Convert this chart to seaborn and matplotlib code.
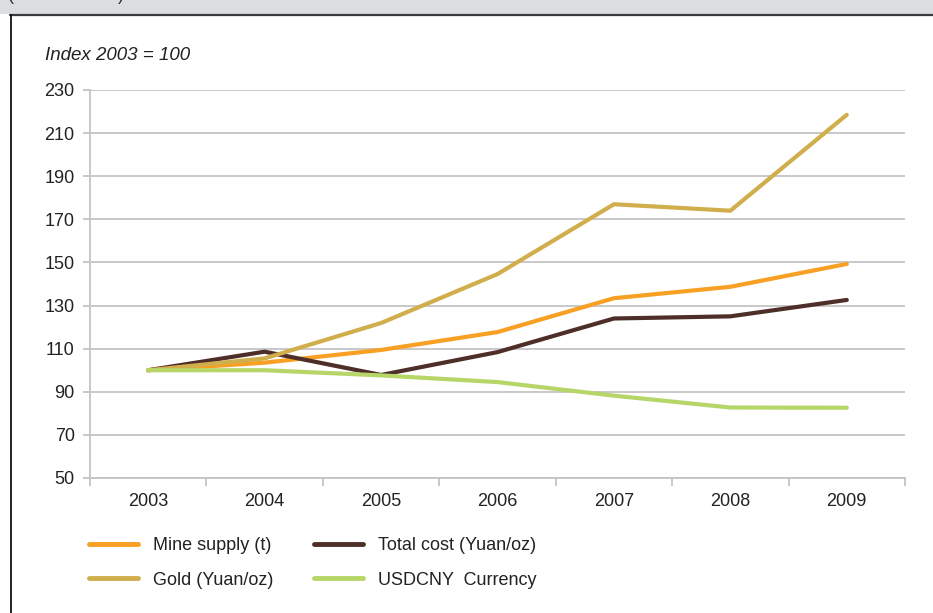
import matplotlib
matplotlib.use("Agg")
import matplotlib.pyplot as plt
from matplotlib.lines import Line2D
import numpy as np
import pandas as pd
import seaborn as sns

# Index values (2003 = 100)
years = [2003, 2004, 2005, 2006, 2007, 2008, 2009]
mine_supply = [100, 103.5, 109.4, 117.7, 133.4, 138.7, 149.3]
total_cost = [100, 108.6, 97.8, 108.4, 124.0, 125.0, 132.6]
gold_price = [100, 105.5, 121.9, 144.6, 177.0, 174.0, 218.5]
usdcny = [100, 100.0, 97.6, 94.5, 88.2, 82.7, 82.6]

series_names = ["Mine supply (t)", "Total cost (Yuan/oz)", "Gold (Yuan/oz)", "USDCNY  Currency"]
series_values = [mine_supply, total_cost, gold_price, usdcny]
series_colors = ["#F7A023", "#4E2E28", "#D1AE4C", "#B6D768"]
legend_order = ["Mine supply (t)", "Gold (Yuan/oz)", "Total cost (Yuan/oz)", "USDCNY  Currency"]
y_ticks = [50, 70, 90, 110, 130, 150, 170, 190, 210, 230]

df = pd.DataFrame({
    "year": years * len(series_names),
    "value": sum(series_values, []),
    "series": [n for n in series_names for _ in years],
})

sns.set_theme(style="white")
plt.rcParams["font.family"] = ["Liberation Sans", "DejaVu Sans"]

fig = plt.figure(figsize=(9.33, 6.13), dpi=100)
fig.patch.set_facecolor("white")

W, H = 933, 613
# header band and frame
fig.patches.append(plt.Rectangle((0, 1 - 14 / H), 1, 14 / H, transform=fig.transFigure,
                                 facecolor="#DCDDDF", edgecolor="none", zorder=0))
fig.lines.append(Line2D([10 / W, 1], [1 - 14.5 / H] * 2, transform=fig.transFigure,
                        color="#3A3A3A", lw=1.6))
fig.lines.append(Line2D([10.5 / W] * 2, [0, 1 - 14.5 / H], transform=fig.transFigure,
                        color="#111111", lw=1.3))
fig.text(8 / W, 1 + 4 / H, "(", fontsize=13, color="#333333", va="center")
fig.text(118 / W, 1 + 4 / H, ")", fontsize=13, color="#333333", va="center")

ax = fig.add_axes([90 / W, 1 - 478 / H, (905 - 90) / W, (478 - 90) / H])
sns.lineplot(data=df, x="year", y="value", hue="series", hue_order=series_names,
             palette=dict(zip(series_names, series_colors)), linewidth=3.0,
             legend=False, ax=ax)
for line in ax.lines:
    line.set_solid_capstyle("round")
    line.set_solid_joinstyle("round")

ax.set_xlim(years[0] - 0.5, years[-1] + 0.5)
ax.set_ylim(y_ticks[0], y_ticks[-1])
ax.set_yticks(y_ticks)
ax.set_xticks(years)
ax.set_xticks(np.arange(years[0] - 0.5, years[-1] + 1, 1.0), minor=True)
ax.set_xlabel("")
ax.set_ylabel("")
ax.yaxis.grid(True, color="#C4C4C4", lw=1.3)
ax.xaxis.grid(False)
ax.set_axisbelow(True)
for s in ["top", "right"]:
    ax.spines[s].set_visible(False)
for s in ["left", "bottom"]:
    ax.spines[s].set_color("#C4C4C4")
    ax.spines[s].set_linewidth(1.3)
ax.tick_params(axis="y", which="major", length=5, width=1.3, color="#C4C4C4",
               labelsize=13, labelcolor="#222222", pad=6, left=True)
ax.tick_params(axis="x", which="major", length=0, labelsize=13, labelcolor="#222222", pad=11)
ax.tick_params(axis="x", which="minor", length=6, width=1.3, color="#C4C4C4", bottom=True)

fig.text(45 / W, 1 - 55 / H, "Index 2003 = 100", fontsize=13.5, style="italic",
         color="#222222", va="center")

color_map = dict(zip(series_names, series_colors))
handles = [Line2D([], [], color=color_map[n], lw=3.5, solid_capstyle="round") for n in legend_order]
fig.legend(handles, legend_order, ncol=2, loc="upper left",
           bbox_to_anchor=(73 / W, 1 - 521 / H), frameon=False, fontsize=13,
           handlelength=2.7, handletextpad=0.85, columnspacing=2.25, labelspacing=0.97,
           labelcolor="#222222")

fig.savefig("out.png", dpi=100, facecolor="white")
